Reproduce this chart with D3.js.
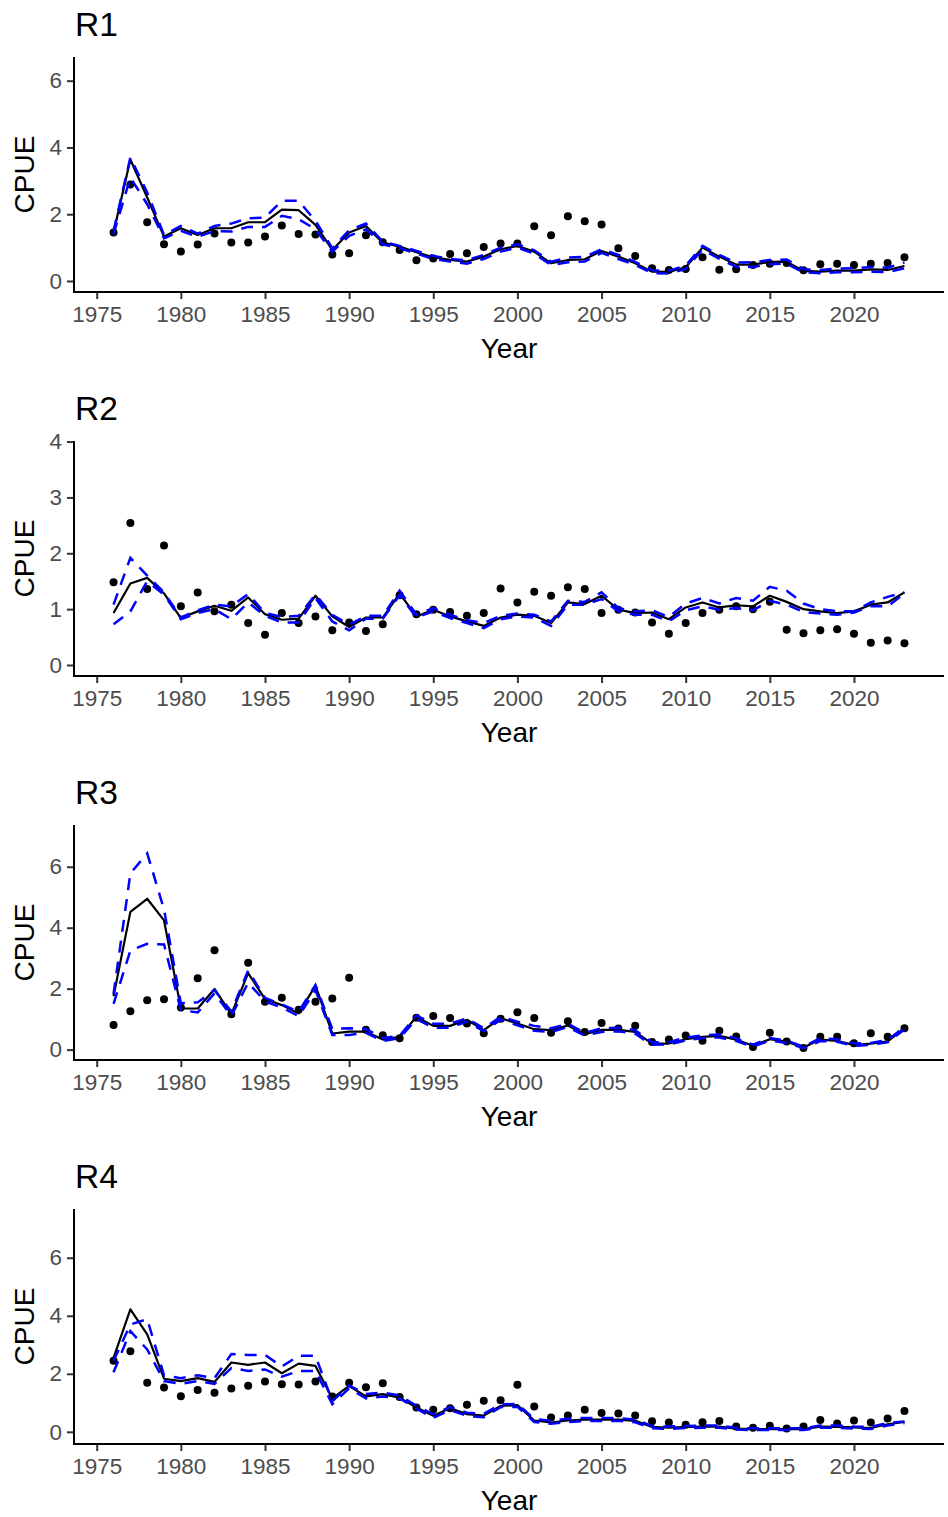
<!DOCTYPE html>
<html>
<head>
<meta charset="utf-8">
<script src="https://cdn.jsdelivr.net/npm/d3@7"></script>
<style>
  html, body { margin: 0; padding: 0; background: #ffffff; }
  svg { display: block; font-family: "Liberation Sans", Arial, sans-serif; }
</style>
</head>
<body>
<svg id="chart" width="948" height="1517"></svg>
<script>
// Survey years shared by all regions
const years = d3.range(1976, 2024);

const regions = ["R1", "R2", "R3", "R4"];

// Observed CPUE (points)
const obsR1 = [1.45,2.89,1.76,1.10,0.88,1.09,1.42,1.15,1.15,1.33,1.66,1.41,1.39,0.79,0.83,1.37,1.16,0.93,0.62,0.67,0.81,0.83,1.02,1.12,
               1.12,1.64,1.37,1.94,1.79,1.69,0.98,0.75,0.38,0.33,0.36,0.71,0.34,0.35,0.48,0.52,0.54,0.32,0.50,0.52,0.48,0.52,0.54,0.71];
const obsR2 = [1.48,2.54,1.36,2.14,1.05,1.30,0.96,1.08,0.75,0.54,0.93,0.75,0.87,0.62,0.76,0.61,0.73,1.25,0.91,0.99,0.95,0.88,0.93,1.37,
               1.12,1.31,1.24,1.39,1.36,0.93,0.99,0.94,0.76,0.56,0.75,0.93,0.99,1.05,1.00,1.13,0.63,0.57,0.62,0.64,0.56,0.40,0.44,0.39];
const obsR3 = [0.81,1.26,1.62,1.65,1.38,2.34,3.26,1.16,2.85,1.57,1.70,1.31,1.57,1.68,2.36,0.65,0.47,0.37,1.05,1.10,1.04,0.86,0.54,1.01,
               1.23,1.04,0.55,0.93,0.58,0.87,0.69,0.78,0.25,0.33,0.46,0.29,0.62,0.43,0.09,0.55,0.27,0.05,0.42,0.42,0.21,0.54,0.42,0.70];
const obsR4 = [2.45,2.78,1.69,1.53,1.23,1.44,1.35,1.49,1.59,1.73,1.64,1.63,1.73,1.22,1.69,1.54,1.67,1.20,0.84,0.76,0.81,0.93,1.07,1.09,
               1.62,0.87,0.49,0.56,0.76,0.65,0.63,0.56,0.36,0.32,0.24,0.33,0.37,0.18,0.14,0.21,0.11,0.18,0.41,0.29,0.39,0.32,0.46,0.72];

// Fitted CPUE (solid black line)
const fitR1 = [1.45,3.64,2.50,1.33,1.58,1.38,1.58,1.58,1.76,1.76,2.14,2.12,1.68,0.93,1.45,1.65,1.15,1.03,0.86,0.71,0.63,0.58,0.73,0.95,
               1.05,0.88,0.53,0.63,0.65,0.90,0.73,0.53,0.28,0.27,0.41,1.00,0.73,0.49,0.49,0.57,0.58,0.30,0.28,0.31,0.31,0.35,0.33,0.45];
const fitR2 = [0.93,1.46,1.56,1.28,0.84,0.96,1.06,0.97,1.21,0.91,0.81,0.83,1.24,0.87,0.68,0.85,0.85,1.28,0.87,0.99,0.87,0.78,0.70,0.85,
               0.90,0.88,0.75,1.12,1.09,1.24,0.99,0.93,0.94,0.82,1.03,1.12,1.03,1.07,1.05,1.24,1.13,1.00,0.96,0.93,0.96,1.08,1.12,1.30];
const fitR3 = [1.75,4.52,4.95,4.24,1.35,1.35,1.99,1.16,2.51,1.66,1.46,1.19,2.10,0.53,0.59,0.59,0.33,0.42,1.08,0.78,0.78,0.98,0.64,1.03,
               0.86,0.67,0.64,0.79,0.51,0.65,0.65,0.58,0.20,0.20,0.34,0.42,0.45,0.33,0.13,0.34,0.26,0.07,0.33,0.29,0.15,0.20,0.27,0.70];
const fitR4 = [2.55,4.22,3.36,1.83,1.75,1.85,1.72,2.39,2.31,2.39,2.02,2.35,2.27,1.15,1.58,1.22,1.30,1.18,0.84,0.55,0.81,0.61,0.56,0.89,
               0.92,0.39,0.32,0.39,0.42,0.42,0.42,0.38,0.17,0.14,0.17,0.18,0.18,0.11,0.09,0.09,0.09,0.09,0.18,0.17,0.15,0.13,0.26,0.34];

// Upper bound of the fitted CPUE (blue dashed)
const upR1 = [1.50,3.70,2.65,1.38,1.65,1.42,1.65,1.72,1.88,1.90,2.40,2.40,1.80,0.98,1.52,1.72,1.18,1.05,0.90,0.75,0.66,0.62,0.78,1.00,
              1.10,0.92,0.58,0.70,0.72,0.95,0.78,0.57,0.32,0.31,0.46,1.05,0.78,0.55,0.56,0.63,0.64,0.35,0.33,0.37,0.38,0.42,0.40,0.55];
const upR2 = [1.08,1.92,1.60,1.30,0.85,0.98,1.08,1.05,1.27,0.93,0.86,0.88,1.26,0.90,0.72,0.88,0.88,1.33,0.90,1.02,0.90,0.80,0.75,0.88,
              0.92,0.90,0.78,1.15,1.13,1.30,1.02,0.96,0.98,0.86,1.10,1.20,1.10,1.20,1.15,1.40,1.33,1.10,1.00,0.96,0.96,1.12,1.22,1.30];
const upR3 = [1.82,5.78,6.44,4.60,1.52,1.55,1.95,1.25,2.60,1.70,1.48,1.25,2.12,0.68,0.70,0.68,0.38,0.45,1.12,0.85,0.85,1.03,0.70,1.08,
              0.92,0.78,0.70,0.85,0.55,0.70,0.72,0.64,0.24,0.24,0.40,0.47,0.50,0.37,0.16,0.38,0.30,0.10,0.38,0.34,0.20,0.22,0.32,0.74];
const upR4 = [2.45,3.70,3.88,1.95,1.85,1.95,1.85,2.68,2.65,2.65,2.25,2.62,2.62,1.05,1.60,1.30,1.35,1.25,0.90,0.60,0.85,0.66,0.62,0.95,
              0.96,0.44,0.38,0.45,0.48,0.48,0.47,0.42,0.20,0.18,0.20,0.22,0.22,0.14,0.12,0.12,0.12,0.12,0.22,0.22,0.18,0.17,0.30,0.36];

// Lower bound of the fitted CPUE (blue dashed)
const loR1 = [1.40,3.10,2.30,1.28,1.50,1.32,1.50,1.48,1.62,1.62,1.95,1.85,1.55,0.88,1.35,1.55,1.10,0.98,0.82,0.66,0.58,0.52,0.66,0.88,
              1.00,0.82,0.48,0.56,0.58,0.84,0.66,0.48,0.24,0.22,0.36,0.94,0.66,0.43,0.42,0.50,0.52,0.26,0.23,0.26,0.26,0.28,0.27,0.38];
const loR2 = [0.73,0.96,1.50,1.26,0.82,0.93,1.00,0.82,1.12,0.88,0.76,0.76,1.20,0.78,0.62,0.83,0.83,1.25,0.85,0.96,0.84,0.75,0.66,0.82,
              0.87,0.85,0.70,1.08,1.08,1.18,0.96,0.90,0.90,0.78,0.98,1.05,0.99,1.02,0.98,1.15,1.08,0.95,0.92,0.90,0.94,1.05,1.05,1.28];
const loR3 = [1.50,3.25,3.47,3.45,1.30,1.22,1.85,1.10,2.20,1.58,1.38,1.10,1.95,0.48,0.48,0.55,0.28,0.38,1.00,0.72,0.72,0.92,0.60,0.98,
              0.80,0.62,0.58,0.74,0.46,0.58,0.60,0.52,0.16,0.17,0.30,0.38,0.40,0.28,0.10,0.30,0.22,0.05,0.28,0.26,0.12,0.16,0.24,0.66];
const loR4 = [2.05,3.47,2.84,1.75,1.65,1.75,1.65,2.20,2.10,2.15,1.90,2.10,2.10,0.95,1.50,1.15,1.22,1.15,0.80,0.48,0.75,0.55,0.50,0.85,
              0.86,0.34,0.28,0.34,0.37,0.37,0.38,0.33,0.12,0.10,0.13,0.14,0.14,0.08,0.06,0.06,0.06,0.06,0.14,0.14,0.11,0.10,0.22,0.30];

// Axis ticks
const xTicks = [1975, 1980, 1985, 1990, 1995, 2000, 2005, 2010, 2015, 2020];
const yTicksR1 = [0, 2, 4, 6];
const yTicksR2 = [0, 1, 2, 3, 4];
const yTicksR3 = [0, 2, 4, 6];
const yTicksR4 = [0, 2, 4, 6];

// Per-panel y limits (free y scales)
const yLimitsR1 = [-0.33, 6.71];
const yLimitsR2 = [-0.197, 4.01];
const yLimitsR3 = [-0.34, 7.37];
const yLimitsR4 = [-0.42, 7.68];

const panels = [
  { name: regions[0], obs: obsR1, fit: fitR1, up: upR1, lo: loR1, ticks: yTicksR1, lim: yLimitsR1 },
  { name: regions[1], obs: obsR2, fit: fitR2, up: upR2, lo: loR2, ticks: yTicksR2, lim: yLimitsR2 },
  { name: regions[2], obs: obsR3, fit: fitR3, up: upR3, lo: loR3, ticks: yTicksR3, lim: yLimitsR3 },
  { name: regions[3], obs: obsR4, fit: fitR4, up: upR4, lo: loR4, ticks: yTicksR4, lim: yLimitsR4 }
];

// Layout
const plotLeft = 74, plotRight = 944;
const firstTop = 57, panelStep = 384, plotHeight = 235;
const tickFont = 22.5, titleFont = 28, headFont = 33.6;

const svg = d3.select("#chart");

const x = d3.scaleLinear()
  .domain([1976 - 0.05 * 47, 2023 + 0.05 * 47])
  .range([plotLeft, plotRight]);

panels.forEach((p, i) => {
  const top = firstTop + i * panelStep;
  const bottom = top + plotHeight;
  const y = d3.scaleLinear().domain(p.lim).range([bottom, top]);

  const g = svg.append("g");

  // Panel title
  g.append("text")
    .attr("x", plotLeft + 1)
    .attr("y", top - 21)
    .attr("font-size", headFont)
    .attr("fill", "#000")
    .text(p.name);

  // Observations
  g.append("g").selectAll("circle")
    .data(years.map((yr, k) => ({ yr, v: p.obs[k] })))
    .join("circle")
    .attr("cx", d => x(d.yr))
    .attr("cy", d => y(d.v))
    .attr("r", 4)
    .attr("fill", "#000");

  const line = d3.line().x(d => x(d.yr)).y(d => y(d.v));

  // Fitted line
  g.append("path")
    .datum(years.map((yr, k) => ({ yr, v: p.fit[k] })))
    .attr("d", line)
    .attr("fill", "none")
    .attr("stroke", "#000")
    .attr("stroke-width", 2.2)
    .attr("stroke-linejoin", "round");

  // Interval bounds
  [p.up, p.lo].forEach(arr => {
    g.append("path")
      .datum(years.map((yr, k) => ({ yr, v: arr[k] })))
      .attr("d", line)
      .attr("fill", "none")
      .attr("stroke", "#0000FF")
      .attr("stroke-width", 2.5)
      .attr("stroke-dasharray", "12,9");
  });

  // Y axis
  const yAxis = g.append("g")
    .attr("transform", `translate(${plotLeft},0)`)
    .call(d3.axisLeft(y).tickValues(p.ticks).tickSize(7).tickPadding(5).tickFormat(d3.format("d")));
  yAxis.select(".domain").remove();
  yAxis.selectAll(".tick line").attr("stroke", "#333333").attr("stroke-width", 2);
  yAxis.selectAll(".tick text").attr("fill", "#4D4D4D").attr("font-size", tickFont)
    .attr("font-family", "Liberation Sans, Arial, sans-serif");

  // X axis
  const xAxis = g.append("g")
    .attr("transform", `translate(0,${bottom})`)
    .call(d3.axisBottom(x).tickValues(xTicks).tickSize(7).tickPadding(7).tickFormat(d3.format("d")));
  xAxis.select(".domain").remove();
  xAxis.selectAll(".tick line").attr("stroke", "#333333").attr("stroke-width", 2);
  xAxis.selectAll(".tick text").attr("fill", "#4D4D4D").attr("font-size", tickFont)
    .attr("font-family", "Liberation Sans, Arial, sans-serif");

  // Axis lines
  g.append("line")
    .attr("x1", plotLeft).attr("x2", plotLeft)
    .attr("y1", top).attr("y2", bottom + 1)
    .attr("stroke", "#000").attr("stroke-width", 2);
  g.append("line")
    .attr("x1", plotLeft - 1).attr("x2", plotRight)
    .attr("y1", bottom).attr("y2", bottom)
    .attr("stroke", "#000").attr("stroke-width", 2);

  // Axis titles
  g.append("text")
    .attr("x", (plotLeft + plotRight) / 2)
    .attr("y", bottom + 66)
    .attr("text-anchor", "middle")
    .attr("font-size", titleFont)
    .attr("fill", "#000")
    .text("Year");

  g.append("text")
    .attr("transform", `translate(34,${(top + bottom) / 2}) rotate(-90)`)
    .attr("text-anchor", "middle")
    .attr("font-size", titleFont)
    .attr("fill", "#000")
    .text("CPUE");
});
</script>
</body>
</html>
